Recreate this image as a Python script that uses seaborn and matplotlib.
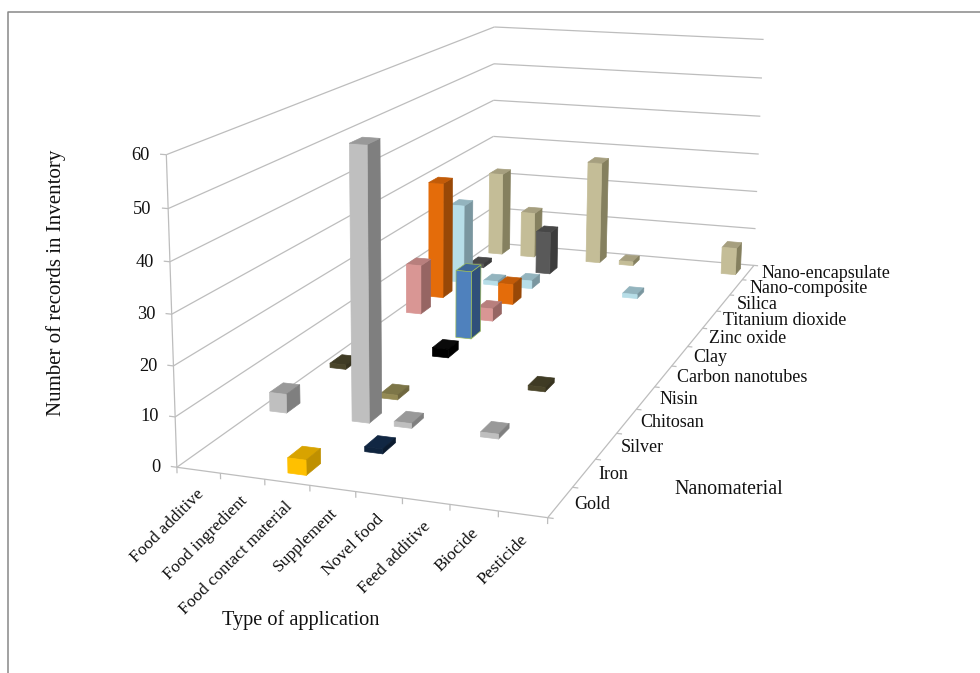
import numpy as np
import pandas as pd
import seaborn as sns
import matplotlib
matplotlib.use("Agg")
import matplotlib.pyplot as plt
from matplotlib.lines import Line2D
from mpl_toolkits.mplot3d.art3d import Line3DCollection, Poly3DCollection

applications = ["Food additive", "Food ingredient", "Food contact material", "Supplement",
                "Novel food", "Feed additive", "Biocide", "Pesticide"]
materials = ["Gold", "Iron", "Silver", "Chitosan", "Nisin", "Carbon nanotubes", "Clay",
             "Zinc oxide", "Titanium dioxide", "Silica", "Nano-composite", "Nano-encapsulate"]
z_ticks = [0, 10, 20, 30, 40, 50, 60]

bar_application = ["Food contact material", "Supplement", "Food additive", "Food contact material",
                   "Supplement", "Feed additive", "Food contact material", "Food additive",
                   "Feed additive", "Food contact material", "Food contact material", "Food additive",
                   "Food contact material", "Food additive", "Food contact material", "Food additive",
                   "Food ingredient", "Food contact material", "Feed additive", "Food additive",
                   "Food contact material", "Food additive", "Food ingredient", "Supplement",
                   "Novel food", "Pesticide"]
bar_material = ["Gold", "Iron", "Silver", "Silver",
                "Silver", "Silver", "Chitosan", "Nisin",
                "Nisin", "Carbon nanotubes", "Clay", "Zinc oxide",
                "Zinc oxide", "Titanium dioxide", "Titanium dioxide", "Silica",
                "Silica", "Silica", "Silica", "Nano-composite",
                "Nano-composite", "Nano-encapsulate", "Nano-encapsulate", "Nano-encapsulate",
                "Nano-encapsulate", "Nano-encapsulate"]
bar_records = [3, 1, 4, 57,
               1, 1, 1, 1,
               1, 2, 16, 12,
               3, 29, 5, 20,
               1, 2, 1, 1,
               11, 22, 12, 27,
               1, 7]

front_shades = ["#FFC000", "#0F243E", "#BFBFBF", "#948A54", "#4A452A", "#000000", "#4F81BD",
                "#D99694", "#E46C0A", "#B7DEE8", "#595959", "#C4BD97"]
top_shades = ["#D8A300", "#112743", "#999999", "#7D7648", "#3F3B24", "#0A0A0A", "#3F6797",
              "#B87F7D", "#C25B08", "#93B4BE", "#474747", "#A69F7F"]
side_shades = ["#BF9000", "#0B1B2F", "#7F7F7F", "#6F673F", "#37331F", "#000000", "#30507A",
               "#966563", "#984807", "#7A969F", "#3C3C3C", "#85805F"]

records = pd.DataFrame({"application": bar_application, "material": bar_material, "records": bar_records})
records["u"] = records["application"].map(applications.index)
records["v"] = records["material"].map(materials.index)

sns.set_theme(style="white", rc={"font.family": ["Liberation Serif", "DejaVu Serif"]})

W, H = 980, 673
fig = plt.figure(figsize=(W / 100, H / 100), dpi=100, facecolor="white")
ax = fig.add_axes([0, 0, 1, 1], projection="3d", computed_zorder=False)
ax.set_axis_off()
ax.set_xlim(0, len(applications))
ax.set_ylim(0, len(materials))
ax.set_zlim(0, 60)

# The camera: anchor points of the chart box on the canvas, solved as a projective matrix.
anchors = [
    (0, 0, 0, 178, 467), (1, 0, 0, 221, 474), (2, 0, 0, 265, 480), (3, 0, 0, 310, 486),
    (4, 0, 0, 355, 493), (5, 0, 0, 402, 499), (6, 0, 0, 448, 505), (7, 0, 0, 497, 512),
    (8, 0, 0, 546, 518), (8, 1, 0, 572, 487), (8, 2, 0, 595, 458), (8, 3, 0, 617, 432),
    (8, 4, 0, 637, 408), (8, 5, 0, 656, 386), (8, 6, 0, 673, 365), (8, 7, 0, 688, 346),
    (8, 8, 0, 703, 328), (8, 9, 0, 718, 311), (8, 10, 0, 730, 294), (8, 11, 0, 742, 280),
    (8, 12, 0, 753, 266), (0, 0, 10, 176, 416), (0, 0, 20, 174, 366), (0, 0, 30, 172, 314),
    (0, 0, 40, 170, 261), (0, 0, 50, 168, 208), (0, 0, 60, 166, 156),
    (0, 12, 60, 494.4, 27), (0, 12, 50, 494, 63), (0, 12, 40, 493.6, 99), (0, 12, 30, 493.2, 136),
    (0, 12, 20, 492.8, 172), (0, 12, 10, 492.4, 208), (0, 12, 0, 492, 244),
    (8, 12, 60, 763.7, 40), (8, 12, 50, 762, 78), (8, 12, 40, 760.5, 117), (8, 12, 30, 759, 155),
    (8, 12, 20, 757, 192), (8, 12, 10, 755, 229),
]
rows = []
for x, y, z, px, py in anchors:
    px, py = px / 1000, py / 1000
    rows.append([x, y, z, 1, 0, 0, 0, 0, -px * x, -px * y, -px * z, -px])
    rows.append([0, 0, 0, 0, x, y, z, 1, -py * x, -py * y, -py * z, -py])
camera = np.linalg.svd(np.array(rows))[2][-1].reshape(3, 4)
if camera[2, 3] < 0:
    camera = -camera
camera[:2] *= 1000
projection = np.vstack([camera[0], camera[1], [0, 0, 0, -1], camera[2]])
ax.get_proj = lambda: projection

# 3D axes are kept square, so the view window is given in canvas pixels around that square.
ax.viewLim.intervalx = ((W - H) / 2, (W + H) / 2)
ax.viewLim.intervaly = (H, 0)


def to_figure(u, v, z):
    """Figure-fraction position of a point in chart coordinates."""
    x, y, w = camera @ np.array([u, v, z, 1.0])
    return x / w / W, 1 - y / w / H


GRID = "#BDBDBD"
nx, ny = len(applications), len(materials)

rules = []
for z in z_ticks:
    rules.append([(-0.14, 0, z), (0, 0, z)])
    rules.append([(0, 0, z), (0, ny, z)])
    rules.append([(0, ny, z), (nx, ny, z)])
rules.append([(0, 0, 0), (0, 0, 60)])
rules.append([(0, 0, 0), (nx, 0, 0)])
rules.append([(nx, 0, 0), (nx, ny, 0)])
for u in range(nx + 1):
    rules.append([(u, 0, 0), (u, 0, -1.2)])
for v in range(ny + 1):
    rules.append([(nx, v, 0), (nx + 0.12, v, 0)])
ax.add_collection3d(Line3DCollection(rules, colors=GRID, linewidths=0.9, zorder=1))


def add_bar(u, v, height, front, top, side, zorder):
    w, d = 0.41, 0.43
    x0, x1 = u + 0.5 - w / 2, u + 0.5 + w / 2
    y0, y1 = v + 0.5 - d / 2, v + 0.5 + d / 2
    faces = [
        [(x0, y0, 0), (x1, y0, 0), (x1, y0, height), (x0, y0, height)],
        [(x1, y0, 0), (x1, y1, 0), (x1, y1, height), (x1, y0, height)],
        [(x0, y0, height), (x1, y0, height), (x1, y1, height), (x0, y1, height)],
    ]
    edge = "#9BBB59" if materials[v] == "Clay" else [front, side, top]
    poly = Poly3DCollection(faces, facecolors=[front, side, top], edgecolors=edge,
                            linewidths=0.5, zorder=zorder)
    ax.add_collection3d(poly)


# Rows further back are painted first; within a row, left to right.
ordered = records.sort_values(["v", "u"], ascending=[False, True]).reset_index(drop=True)
for i, row in ordered.iterrows():
    add_bar(row.u, row.v, row.records, front_shades[row.v], top_shades[row.v], side_shades[row.v], 2 + i)

TICK_SIZE = 13
INK = "#111111"
for z in z_ticks:
    fx, fy = to_figure(-0.37, 0, z - 0.4)
    fig.text(fx, fy, str(z), ha="right", va="center", fontsize=TICK_SIZE + 0.2, color=INK)
for u, name in enumerate(applications):
    fx, fy = to_figure(u + 0.55, 0, -4.3)
    fig.text(fx, fy, name, rotation=45, rotation_mode="anchor", ha="right", va="center",
             fontsize=TICK_SIZE - 0.4, color=INK)
for v, name in enumerate(materials):
    fx, fy = to_figure(nx + 0.29 + 0.1 * v / (ny - 1), v + 0.5, 0)
    fig.text(fx, fy, name, ha="left", va="center", fontsize=TICK_SIZE, color=INK)

fig.text(301 / W, 1 - 620 / H, "Type of application", ha="center", va="center", fontsize=14.6, color=INK)
fig.text(729 / W, 1 - 489 / H, "Nanomaterial", ha="center", va="center", fontsize=14.4, color=INK)
fig.text(56 / W, 1 - 283 / H, "Number of records in Inventory", rotation=90, ha="center", va="center",
         fontsize=15, color=INK)

# Thin frame along the top and left of the canvas.
fig.add_artist(Line2D([7.5 / W, 7.5 / W, 1], [0, 1 - 11.5 / H, 1 - 11.5 / H], color="#888888", lw=1.1))

fig.savefig("out.png", dpi=100, facecolor="white")
